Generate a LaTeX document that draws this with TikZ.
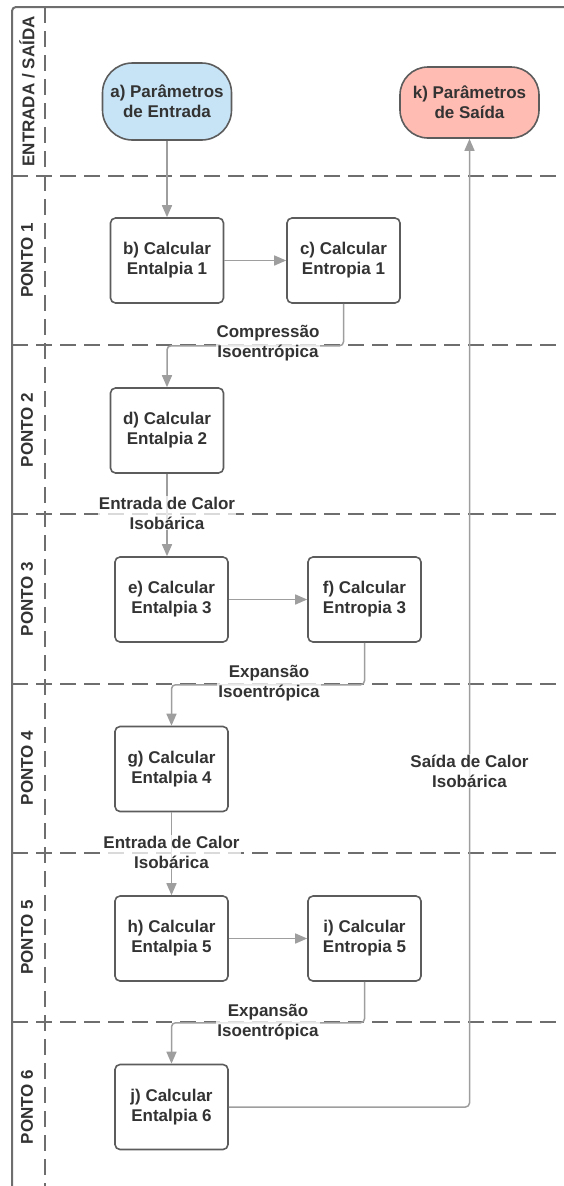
\documentclass[tikz,border=0pt]{standalone}
\usepackage{fontspec}
\setmainfont{Liberation Sans}
\usetikzlibrary{arrows.meta}
\definecolor{txt}{HTML}{333333}
\definecolor{lanecol}{HTML}{6E6E6E}
\definecolor{conncol}{HTML}{9E9E9E}
\definecolor{bord}{HTML}{5C5C5C}
\definecolor{inblue}{RGB}{199,228,246}
\definecolor{outred}{RGB}{255,188,179}
\begin{document}
\begin{tikzpicture}[x=1pt,y=-1pt,
 every node/.style={font=\fontsize{17}{20}\selectfont\bfseries, text=txt},
 proc/.style={draw=bord, line width=1.6pt, rounded corners=5pt, minimum width=113pt, minimum height=85pt, align=center, inner sep=0pt},
 term/.style={draw=bord, line width=1.6pt, align=center, inner sep=0pt},
 conn/.style={draw=conncol, line width=1.5pt, rounded corners=4pt},
 arr/.style={conn, -{Triangle[length=12pt,width=10pt]}},
 lanesep/.style={draw=lanecol, line width=2pt, dash pattern=on 16pt off 8pt},
 laneedge/.style={draw=lanecol, line width=2pt, rounded corners=4pt},
 lbl/.style={fill=white, fill opacity=0.75, text opacity=1, inner sep=1pt, align=center},
 lanetitle/.style={rotate=90, anchor=center, inner sep=0pt}
]
\useasboundingbox (0,0) rectangle (564,1186);

% swimlanes
\draw[laneedge] (12,1186) -- (12,7) -- (564,7);
\foreach \yy in {176,345,514,684,853,1022}
  \draw[lanesep] (12,\yy) -- (564,\yy);
\draw[lanesep] (45,7) -- (45,1186);

\node[lanetitle] (t0) at (27,91.5) {ENTRADA / SAÍDA};
\node[lanetitle] (t1) at (27,260.5) {PONTO 1};
\node[lanetitle] (t2) at (27,430) {PONTO 2};
\node[lanetitle] (t3) at (27,599) {PONTO 3};
\node[lanetitle] (t4) at (27,768) {PONTO 4};
\node[lanetitle] (t5) at (27,937.5) {PONTO 5};
\node[lanetitle] (t6) at (27,1107) {PONTO 6};

% nodes
\node[term, fill=inblue, rounded corners=30pt, minimum width=129pt, minimum height=77pt] (a) at (167,101.5) {a) Parâmetros\\de Entrada};
\node[term, fill=outred, rounded corners=28pt, minimum width=139pt, minimum height=71pt] (k) at (469.5,102.5) {k) Parâmetros\\de Saída};
\node[proc] (b) at (167,260.5) {b) Calcular\\Entalpia 1};
\node[proc] (c) at (343.5,260.5) {c) Calcular\\Entropia 1};
\node[proc] (d) at (167,430.5) {d) Calcular\\Entalpia 2};
\node[proc] (e) at (171.5,599.5) {e) Calcular\\Entalpia 3};
\node[proc] (f) at (364.5,599.5) {f) Calcular\\Entropia 3};
\node[proc] (g) at (171.5,769) {g) Calcular\\Entalpia 4};
\node[proc] (h) at (171.5,938.5) {h) Calcular\\Entalpia 5};
\node[proc] (i) at (364.5,938.5) {i) Calcular\\Entropia 5};
\node[proc] (j) at (171.5,1107) {j) Calcular\\Entalpia 6};

% connectors
\draw[arr] (a.south) -- (b.north);
\draw[arr] (b.east) -- (c.west);
\draw[arr] (c.south) -- ++(0,42) -| (d.north);
\draw[arr] (d.south) -- (d.south |- e.north);
\draw[arr] (e.east) -- (f.west);
\draw[arr] (f.south) -- ++(0,42) -| (g.north);
\draw[arr] (g.south) -- (h.north);
\draw[arr] (h.east) -- (i.west);
\draw[arr] (i.south) -- ++(0,41) -| (j.north);
\draw[arr] (j.east) -| (k.south);

% labels
\node[lbl] (l1) at (268,343) {Compressão\\Isoentrópica};
\node[lbl] (l2) at (167,513) {Entrada de Calor\\Isobárica};
\node[lbl] (l3) at (269,683) {Expansão\\Isoentrópica};
\node[lbl] (l4) at (171.5,852) {Entrada de Calor\\Isobárica};
\node[lbl] (l5) at (268,1022) {Expansão\\Isoentrópica};
\node[lbl] (l6) at (469.5,771) {Saída de Calor\\Isobárica};
\end{tikzpicture}
\end{document}
